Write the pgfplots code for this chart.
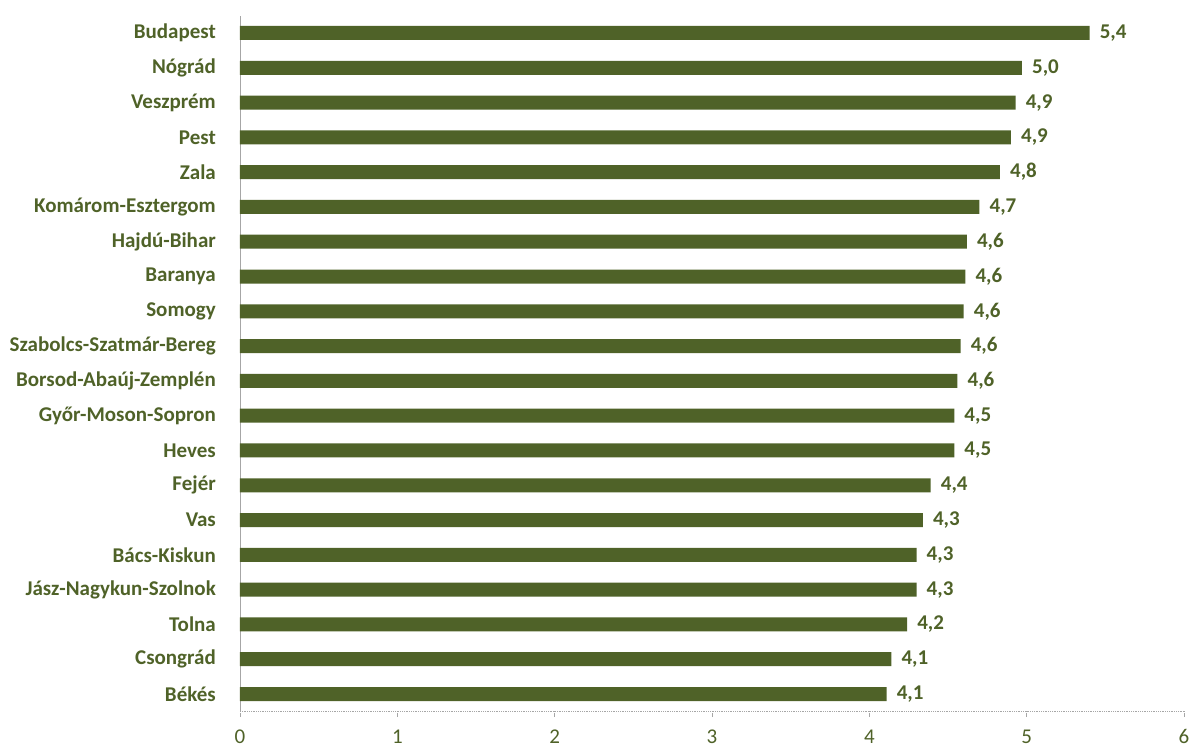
\documentclass[border=0pt]{standalone}
\usepackage{pgfplots}
\pgfplotsset{compat=1.18}
\usepackage{fontspec}
\setmainfont{Carlito}
\definecolor{olive}{HTML}{4F6228}
\definecolor{axgray}{HTML}{A6A6A6}
\begin{document}
\begin{tikzpicture}
\useasboundingbox (-240pt,-37.6pt) rectangle (951pt,711.4pt);
\begin{axis}[
  at={(0pt,0pt)}, anchor=south west,
  scale only axis, width=944pt, height=695.8pt,
  xbar, bar width=14pt,
  xmin=0, xmax=6, ymin=-0.5, ymax=19.5,
  axis y line*=left, axis x line*=bottom,
  axis line style={axgray, line width=0.8pt},
  x axis line style={axgray, densely dotted, line width=0.8pt, -},
  y axis line style={-},
  xtick={0,1,...,6},
  ytick={0,1,...,19},
  yticklabels={Békés,Csongrád,Tolna,Jász-Nagykun-Szolnok,Bács-Kiskun,Vas,Fejér,Heves,Győr-Moson-Sopron,Borsod-Abaúj-Zemplén,Szabolcs-Szatmár-Bereg,Somogy,Baranya,Hajdú-Bihar,Komárom-Esztergom,Zala,Pest,Veszprém,Nógrád,Budapest},
  minor ytick={-0.5,0.5,...,19.5},
  tick align=outside,
  major tick length=5pt,
  minor tick length=6pt,
  every minor tick/.style={axgray, line width=0.8pt},
  ytick style={draw=none},
  xtick style={axgray, densely dotted, line width=0.8pt},
  yticklabel style={font=\fontsize{21}{23}\selectfont\bfseries, text=olive, inner sep=0pt, xshift=-19pt},
  xticklabel style={font=\fontsize{21}{23}\selectfont, text=olive, inner sep=0pt, yshift=-13pt},
  /pgf/number format/assume math mode=true,
  nodes near coords,
  nodes near coords style={font=\fontsize{21}{23}\selectfont\bfseries, text=olive, anchor=west, inner sep=0pt, xshift=10pt,
    /pgf/number format/.cd, fixed, fixed zerofill, precision=1, use comma},
  clip=false,
]
\addplot[fill=olive, draw=none] coordinates {
(4.11,0) (4.14,1) (4.24,2) (4.30,3) (4.30,4) (4.34,5) (4.39,6) (4.54,7) (4.54,8) (4.56,9)
(4.58,10) (4.60,11) (4.61,12) (4.62,13) (4.70,14) (4.83,15) (4.90,16) (4.93,17) (4.97,18) (5.40,19)
};
\end{axis}
\end{tikzpicture}
\end{document}
